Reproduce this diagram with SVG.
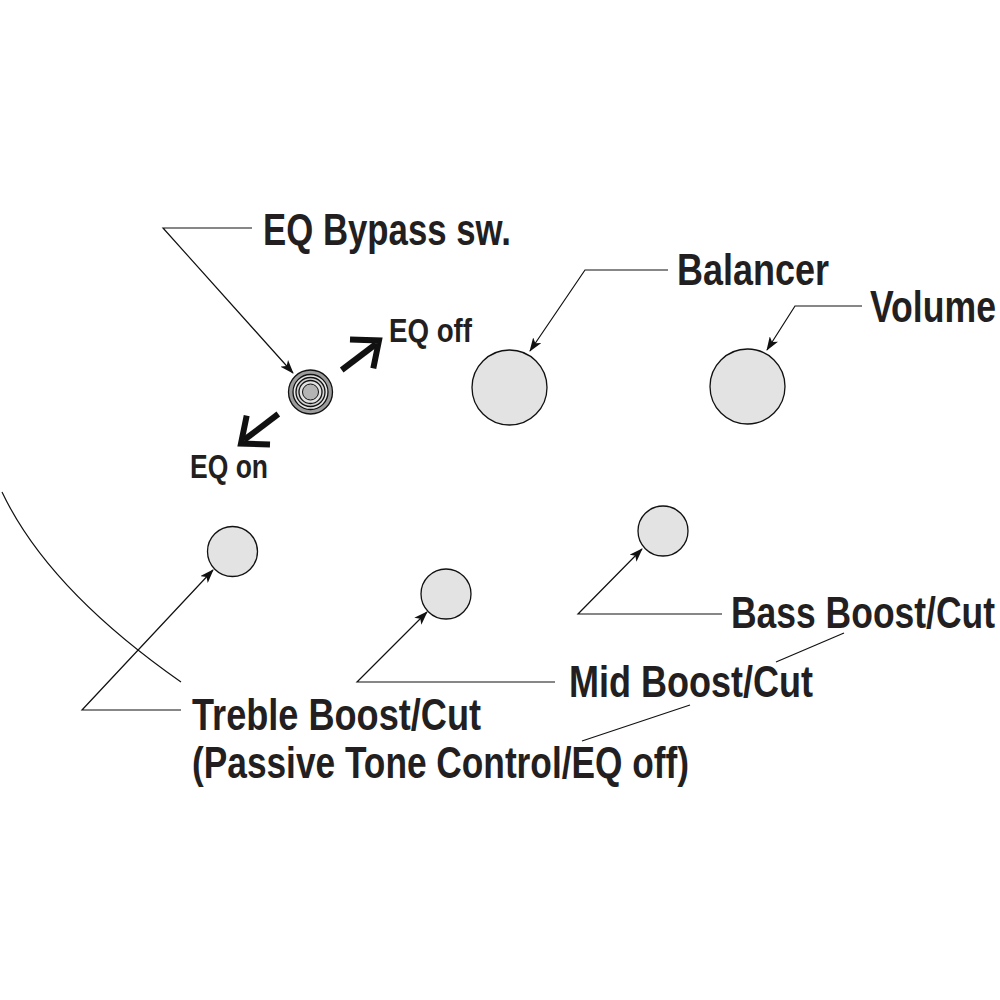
<svg xmlns="http://www.w3.org/2000/svg" width="1000" height="1000" viewBox="0 0 1000 1000">
<style>
.lbl{font-family:"Liberation Sans Narrow","Liberation Sans",Arial,sans-serif;font-weight:bold;fill:#231f20;}
.big{font-size:44px;}
.small{font-size:33px;}
.knob{fill:#e3e3e3;stroke:#111;stroke-width:1.3;}
.lead{fill:none;stroke:#111;stroke-width:1.2;}
.thick{fill:none;stroke:#111;stroke-width:6;stroke-linecap:butt;stroke-linejoin:miter;}
</style>
<defs>
<marker id="ah" viewBox="0 0 14 10" refX="13" refY="5" markerWidth="14" markerHeight="10" markerUnits="userSpaceOnUse" orient="auto">
<path d="M0,0 L14,5 L0,10 L3.5,5 z" fill="#111"/>
</marker>
</defs>
<rect width="1000" height="1000" fill="#fff"/>
<g id="body-outline">
<path class="lead" d="M2,492 Q48,589 181,682"/>
<path class="lead" d="M776,662 L844,633"/>
<path class="lead" d="M582,741 L690,705"/>
</g>
<g id="connectors">
<path class="lead" d="M252,228 L163,228 L293,373" marker-end="url(#ah)"/>
<path class="lead" d="M668,270 L585,270 L530,351" marker-end="url(#ah)"/>
<path class="lead" d="M862,306 L795,306 L767,350" marker-end="url(#ah)"/>
<path class="lead" d="M181,710 L82,710 L213,570" marker-end="url(#ah)"/>
<path class="lead" d="M555,682 L357,682 L427,612" marker-end="url(#ah)"/>
<path class="lead" d="M722,614 L578,614 L642,549" marker-end="url(#ah)"/>
</g>
<g id="eq-bypass-switch">
<circle cx="310.5" cy="392" r="22" fill="#9c9c9c" stroke="#111" stroke-width="1.3"/>
<circle cx="310.5" cy="392" r="17.5" fill="#e6e6e6" stroke="#111" stroke-width="1.3"/>
<circle cx="310.5" cy="392" r="14.5" fill="#d2d2d2" stroke="#111" stroke-width="1.3"/>
<circle cx="310.5" cy="392" r="11.5" fill="#e2e2e2" stroke="#111" stroke-width="1.3"/>
<circle cx="310.5" cy="392" r="8" fill="#b4b4b4" stroke="#111" stroke-width="1"/>
</g>
<g id="eq-off-arrow">
<path class="thick" d="M341.7,370 L376,344"/>
<path class="thick" d="M350,339.5 L379,340.5 L373.3,368.3"/>
</g>
<g id="eq-on-arrow">
<path class="thick" d="M278.3,414 L244,440"/>
<path class="thick" d="M270,444.5 L241,443.5 L246.7,415.7"/>
</g>
<g id="balancer"><circle class="knob" cx="509.5" cy="387.5" r="37.5"/></g>
<g id="volume"><circle class="knob" cx="747.5" cy="386.5" r="37.5"/></g>
<g id="treble"><circle class="knob" cx="232.5" cy="551.5" r="25"/></g>
<g id="mid"><circle class="knob" cx="446" cy="594" r="25"/></g>
<g id="bass"><circle class="knob" cx="663" cy="531" r="25"/></g>
<g id="labels">
<text class="lbl big" x="263" y="245" textLength="248" lengthAdjust="spacingAndGlyphs">EQ Bypass sw.</text>
<text class="lbl big" x="677" y="285" textLength="152" lengthAdjust="spacingAndGlyphs">Balancer</text>
<text class="lbl big" x="870" y="322" textLength="126" lengthAdjust="spacingAndGlyphs">Volume</text>
<text class="lbl small" x="389" y="342" textLength="83" lengthAdjust="spacingAndGlyphs">EQ off</text>
<text class="lbl small" x="190" y="478" textLength="78" lengthAdjust="spacingAndGlyphs">EQ on</text>
<text class="lbl big" x="731" y="628" textLength="264" lengthAdjust="spacingAndGlyphs">Bass Boost/Cut</text>
<text class="lbl big" x="569" y="697" textLength="244" lengthAdjust="spacingAndGlyphs">Mid Boost/Cut</text>
<text class="lbl big" x="192" y="730" textLength="289" lengthAdjust="spacingAndGlyphs">Treble Boost/Cut</text>
<text class="lbl big" x="192" y="778" textLength="497" lengthAdjust="spacingAndGlyphs">(Passive Tone Control/EQ off)</text>
</g>
</svg>
